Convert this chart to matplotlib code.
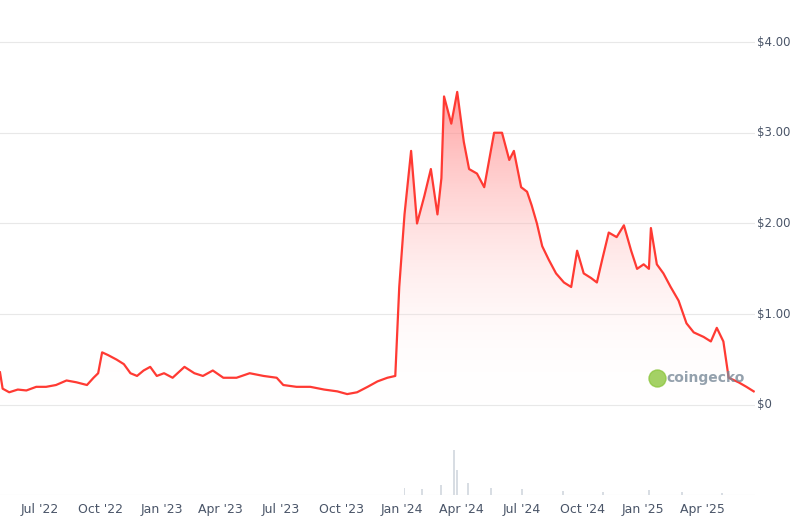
import matplotlib
matplotlib.use("Agg")
import matplotlib.pyplot as plt
import matplotlib.dates as mdates
import numpy as np
import pandas as pd
from matplotlib.patches import Polygon
from matplotlib.colors import LinearSegmentedColormap

dates = ["2022-05-01","2022-05-05","2022-05-15","2022-05-28","2022-06-10","2022-06-25","2022-07-10",
 "2022-07-25","2022-08-10","2022-08-25","2022-09-10","2022-09-20","2022-09-27","2022-10-03","2022-10-12",
 "2022-10-25","2022-11-05","2022-11-15","2022-11-25","2022-12-05","2022-12-15","2022-12-25","2023-01-05",
 "2023-01-18","2023-02-05","2023-02-20","2023-03-05","2023-03-20","2023-04-05","2023-04-25","2023-05-15",
 "2023-06-05","2023-06-25","2023-07-05","2023-07-25","2023-08-15","2023-09-05","2023-09-25","2023-10-10",
 "2023-10-25","2023-11-10","2023-11-25","2023-12-10","2023-12-22",
 "2023-12-28","2024-01-05","2024-01-15","2024-01-24","2024-02-04","2024-02-14","2024-02-24","2024-03-01",
 "2024-03-05","2024-03-16","2024-03-25","2024-04-04","2024-04-12","2024-04-24","2024-05-05","2024-05-20",
 "2024-06-01","2024-06-12","2024-06-19","2024-06-30","2024-07-09","2024-07-16","2024-07-24","2024-08-01",
 "2024-08-11","2024-08-22","2024-09-03","2024-09-14","2024-09-23","2024-10-03","2024-10-14","2024-10-23",
 "2024-10-31","2024-11-10","2024-11-22","2024-12-03","2024-12-14","2024-12-23","2025-01-02","2025-01-10",
 "2025-01-13","2025-01-22","2025-02-01","2025-02-12","2025-02-24","2025-03-08","2025-03-19","2025-04-03",
 "2025-04-14","2025-04-23","2025-05-03","2025-05-11","2025-05-26","2025-06-07","2025-06-18"]
prices = [0.36,0.18,0.14,0.17,0.16,0.2,0.2,
 0.22,0.27,0.25,0.22,0.3,0.35,0.58,0.55,
 0.5,0.45,0.35,0.32,0.38,0.42,0.32,0.35,
 0.3,0.42,0.35,0.32,0.38,0.3,0.3,0.35,
 0.32,0.3,0.22,0.2,0.2,0.17,0.15,0.12,
 0.14,0.2,0.26,0.3,0.32,
 1.3,2.1,2.8,2.0,2.3,2.6,2.1,2.5,
 3.4,3.1,3.45,2.9,2.6,2.55,2.4,3.0,
 3.0,2.7,2.8,2.4,2.35,2.2,2.0,1.75,
 1.6,1.45,1.35,1.3,1.7,1.45,1.4,1.35,
 1.6,1.9,1.85,1.98,1.7,1.5,1.55,1.5,
 1.95,1.55,1.45,1.3,1.15,0.9,0.8,0.75,
 0.7,0.85,0.7,0.3,0.25,0.2,0.15]
vol_dates = ["2024-01-05","2024-02-01","2024-03-01","2024-03-20","2024-03-25","2024-04-10","2024-05-15",
 "2024-07-01","2024-09-01","2024-11-01","2025-01-10","2025-03-01","2025-05-01"]
volumes = [0.15,0.12,0.2,0.9,0.5,0.25,0.15,0.12,0.08,0.07,0.1,0.06,0.05]

d = pd.to_datetime(dates)
p = np.array(prices)

fig = plt.figure(figsize=(8.06,5.28), dpi=100)
ax = fig.add_axes([0,0.0625,755/806,1-0.0625])
ax.set_ylim(-0.992, 4.0+42/90.75)
x0 = mdates.date2num(pd.Timestamp("2022-05-01"))
x1 = mdates.date2num(pd.Timestamp("2025-06-18"))
ax.set_xlim(x0, x1+2)
xn = mdates.date2num(d)
for g in range(5):
    ax.axhline(g, color="#e8e8e8", lw=0.8, zorder=0)
grad = np.linspace(0,1,256).reshape(-1,1)
cmap = LinearSegmentedColormap.from_list("g", [(1,1,1,0),(1,0.5,0.5,0.75)])
im = ax.imshow(grad, extent=[x0,x1,0,3.5], origin="lower", aspect="auto", cmap=cmap, zorder=1)
poly = Polygon(np.column_stack([np.r_[xn[0],xn,xn[-1]], np.r_[0,p,0]]), closed=True,
               transform=ax.transData, fc="none", ec="none")
ax.add_patch(poly)
im.set_clip_path(poly)
ax.plot(xn, p, color="#ff3a33", lw=1.6, zorder=3)
vx = mdates.date2num(pd.to_datetime(vol_dates))
ax.bar(vx, np.array(volumes)*0.55, bottom=-0.992, width=3, color="#d8dde3", zorder=1)
ax.axhline(-0.992, color="#e8e8e8", lw=0.8)
for s in ax.spines.values(): s.set_visible(False)
ax.set_yticks([])
ticks = pd.to_datetime(["2022-07-01","2022-10-01","2023-01-01","2023-04-01","2023-07-01","2023-10-01",
 "2024-01-01","2024-04-01","2024-07-01","2024-10-01","2025-01-01","2025-04-01"])
ax.set_xticks(mdates.date2num(ticks))
ax.xaxis.set_major_formatter(mdates.DateFormatter("%b '%y"))
ax.tick_params(axis="x", length=0, labelsize=9, colors="#4a5568", pad=6)
for v in range(5):
    fig.text(757/806, 1-(405-v*90.75)/528, "$%d.00" % v if v else "$0", fontsize=8.5,
             color="#4a5568", ha="left", va="center")
ax.scatter([mdates.date2num(pd.Timestamp("2025-01-22"))],[0.3], s=150, color="#8dc63f", zorder=4, alpha=0.8)
ax.text(mdates.date2num(pd.Timestamp("2025-02-06")), 0.3, "coingecko", fontsize=10, fontweight="bold",
        color="#7a8a99", va="center", alpha=0.8, zorder=4)
fig.savefig("out.png")
